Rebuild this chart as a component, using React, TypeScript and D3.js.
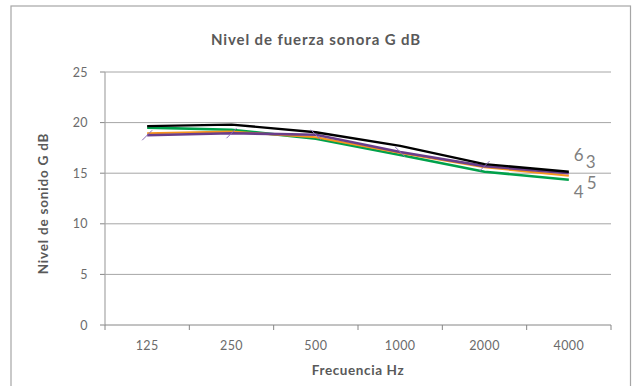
import React from "react";
import * as d3 from "d3";

const categories = ["125", "250", "500", "1000", "2000", "4000"];
const yTicks = [0, 5, 10, 15, 20, 25];
const seriesNames = ["4", "5", "3", "6"];
const series4 = [19.5, 19.3, 18.4, 16.8, 15.15, 14.35];
const series5 = [18.95, 19.1, 18.55, 17.0, 15.6, 14.75];
const series3 = [18.75, 18.95, 18.8, 17.1, 15.7, 15.0];
const series6 = [19.65, 19.8, 19.05, 17.7, 15.9, 15.15];
const markerSlant = [1, 1, -1, -1, 1, 0];

const colors = ["#00a14b", "#f7941d", "#6a3d8a", "#000000"];
const widths = [2.6, 2.2, 2.6, 2.4];
const allSeries = [series4, series5, series3, series6];

const W = 632, H = 386;
const left = 105, right = 611, top = 72, bottom = 325;
const font = "Lato, 'Open Sans', sans-serif";

export default function App() {
  const x = d3.scaleBand<string>().domain(categories).range([left, right]);
  const y = d3.scaleLinear().domain([0, 25]).range([bottom, top]);
  const cx = (c: string) => (x(c) as number) + x.bandwidth() / 2;
  const line = d3
    .line<number>()
    .x((_, i) => cx(categories[i]))
    .y((d) => y(d));

  const bounds = [...categories.map((c) => x(c) as number), right];
  const lastX = cx(categories[categories.length - 1]);

  return (
    <svg width={W} height={H} style={{ position: "absolute", left: 0, top: 0 }}>
      <rect x={0} y={0} width={W} height={H} fill="#fff" />
      <rect x={11} y={6} width={619.5} height={400} fill="#fff" stroke="#a6a6a6" strokeWidth={1.2} />
      <text x={316} y={45} textAnchor="middle" fontFamily={font} fontWeight={700} fontSize={15} letterSpacing={0.9} fill="#595959">
        Nivel de fuerza sonora G dB
      </text>
      {yTicks.map((t) => (
        <g key={t}>
          {t > 0 && <line x1={left} x2={right} y1={y(t)} y2={y(t)} stroke="#a6a6a6" strokeWidth={1} />}
          <line x1={left - 5} x2={left} y1={y(t)} y2={y(t)} stroke="#868686" strokeWidth={1} />
          <text x={88} y={y(t) + 4.5} textAnchor="end" fontFamily={font} fontSize={12.5} letterSpacing={0.4} fill="#6b6b6b">
            {t}
          </text>
        </g>
      ))}
      <line x1={left} x2={left} y1={top} y2={bottom} stroke="#a6a6a6" strokeWidth={1.2} />
      <line x1={left} x2={right} y1={bottom} y2={bottom} stroke="#868686" strokeWidth={1} />
      {bounds.map((b, i) => (
        <line key={i} x1={b} x2={b} y1={bottom} y2={bottom + 5} stroke="#868686" strokeWidth={1} />
      ))}
      {categories.map((c) => (
        <text key={c} x={cx(c)} y={350} textAnchor="middle" fontFamily={font} fontSize={12.5} letterSpacing={0.4} fill="#6b6b6b">
          {c}
        </text>
      ))}
      <text x={358} y={375} textAnchor="middle" fontFamily={font} fontWeight={700} fontSize={13.5} letterSpacing={0.6} fill="#595959">
        Frecuencia Hz
      </text>
      <text
        transform={`translate(48,${(top + bottom) / 2 + 5}) rotate(-90)`}
        textAnchor="middle"
        fontFamily={font}
        fontWeight={700}
        fontSize={13.5}
        letterSpacing={0.8}
        fill="#595959"
      >
        Nivel de sonido G dB
      </text>
      {allSeries.map((s, i) => (
        <path key={i} d={line(s) || ""} fill="none" stroke={colors[i]} strokeWidth={widths[i]} strokeLinejoin="round" />
      ))}
      {series3.map((v, i) =>
        markerSlant[i] === 0 ? null : (
          <line
            key={i}
            x1={cx(categories[i]) - 5}
            x2={cx(categories[i]) + 5}
            y1={y(v) + 5 * markerSlant[i]}
            y2={y(v) - 5 * markerSlant[i]}
            stroke="#8a6bb8"
            strokeWidth={1}
          />
        )
      )}
      <text x={lastX + 5} y={161} fontFamily={font} fontSize={17} fill="#7f7f7f">{seriesNames[3]}</text>
      <text x={lastX + 17} y={168} fontFamily={font} fontSize={17} fill="#7f7f7f">{seriesNames[2]}</text>
      <text x={lastX + 18} y={189} fontFamily={font} fontSize={17} fill="#7f7f7f">{seriesNames[1]}</text>
      <text x={lastX + 5} y={198} fontFamily={font} fontSize={17} fill="#7f7f7f">{seriesNames[0]}</text>
    </svg>
  );
}
